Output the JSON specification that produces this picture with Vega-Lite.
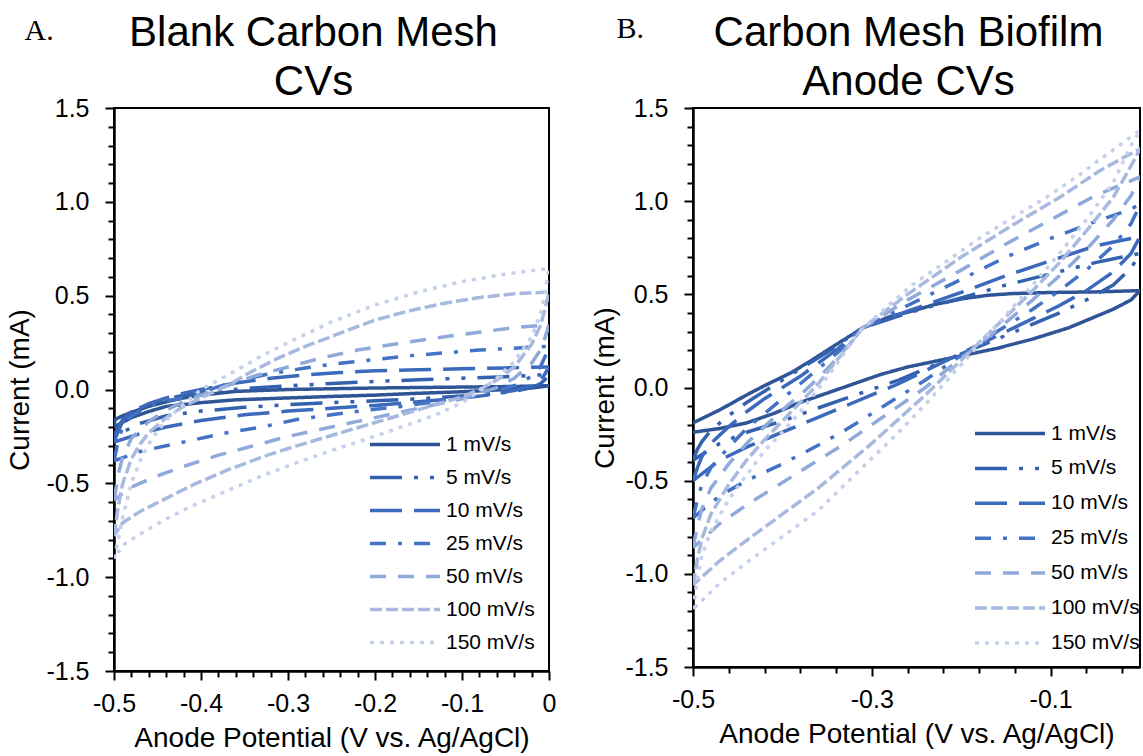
{
 "$schema": "https://vega.github.io/schema/vega-lite/v6.json",
 "background": "white",
 "padding": {"left": 5, "top": 11, "right": 0, "bottom": 0},
 "spacing": 33,
 "resolve": {"scale": {"color": "independent", "strokeDash": "independent"}, "legend": {"color": "independent", "strokeDash": "independent"}},
 "config": {
  "font": "Liberation Sans",
  "view": {"stroke": "black", "strokeWidth": 2},
  "axis": {"domainColor": "black", "domainWidth": 2.5, "tickColor": "black", "tickWidth": 2, "grid": false, "labelColor": "black", "labelFontSize": 25, "labelFont": "Liberation Sans", "titleFont": "Liberation Sans", "titleFontSize": 28, "titleFontWeight": "normal", "titleColor": "black", "labelFlush": false, "labelOverlap": false, "labelBound": false},
  "legend": {"orient": "none", "title": null, "symbolType": "stroke", "symbolSize": 4900, "symbolStrokeWidth": 3.5, "labelFontSize": 21, "labelFont": "Liberation Sans", "labelColor": "black", "labelOffset": 4, "padding": 0, "clipHeight": 21},
  "title": {"color": "black", "fontWeight": "normal"}
 },
 "datasets": {
  "A": [
   {"r":"1 mV/s","o":0,"v":-0.5,"i":-0.2},{"r":"1 mV/s","o":1,"v":-0.499,"i":-0.16},{"r":"1 mV/s","o":2,"v":-0.49,"i":-0.14},{"r":"1 mV/s","o":3,"v":-0.477,"i":-0.117},{"r":"1 mV/s","o":4,"v":-0.46,"i":-0.09},{"r":"1 mV/s","o":5,"v":-0.44,"i":-0.065},{"r":"1 mV/s","o":6,"v":-0.42,"i":-0.045},{"r":"1 mV/s","o":7,"v":-0.4,"i":-0.03},{"r":"1 mV/s","o":8,"v":-0.36,"i":-0.01},{"r":"1 mV/s","o":9,"v":-0.3,"i":0},{"r":"1 mV/s","o":10,"v":-0.2,"i":0.008},{"r":"1 mV/s","o":11,"v":-0.1,"i":0.013},{"r":"1 mV/s","o":12,"v":-0.04,"i":0.016},{"r":"1 mV/s","o":13,"v":0,"i":0.02},
   {"r":"1 mV/s","o":14,"v":-0.02,"i":0.008},{"r":"1 mV/s","o":15,"v":-0.05,"i":0},{"r":"1 mV/s","o":16,"v":-0.1,"i":-0.012},{"r":"1 mV/s","o":17,"v":-0.15,"i":-0.02},{"r":"1 mV/s","o":18,"v":-0.2,"i":-0.03},{"r":"1 mV/s","o":19,"v":-0.25,"i":-0.037},{"r":"1 mV/s","o":20,"v":-0.3,"i":-0.045},{"r":"1 mV/s","o":21,"v":-0.36,"i":-0.055},{"r":"1 mV/s","o":22,"v":-0.4,"i":-0.07},{"r":"1 mV/s","o":23,"v":-0.44,"i":-0.09},{"r":"1 mV/s","o":24,"v":-0.46,"i":-0.117},{"r":"1 mV/s","o":25,"v":-0.48,"i":-0.15},{"r":"1 mV/s","o":26,"v":-0.5,"i":-0.2},

   {"r":"5 mV/s","o":0,"v":-0.5,"i":-0.25},{"r":"5 mV/s","o":1,"v":-0.495,"i":-0.2},{"r":"5 mV/s","o":2,"v":-0.49,"i":-0.16},{"r":"5 mV/s","o":3,"v":-0.48,"i":-0.12},{"r":"5 mV/s","o":4,"v":-0.46,"i":-0.08},{"r":"5 mV/s","o":5,"v":-0.44,"i":-0.05},{"r":"5 mV/s","o":6,"v":-0.42,"i":-0.03},{"r":"5 mV/s","o":7,"v":-0.4,"i":-0.015},{"r":"5 mV/s","o":8,"v":-0.35,"i":0.005},{"r":"5 mV/s","o":9,"v":-0.3,"i":0.02},{"r":"5 mV/s","o":10,"v":-0.25,"i":0.032},{"r":"5 mV/s","o":11,"v":-0.2,"i":0.043},{"r":"5 mV/s","o":12,"v":-0.15,"i":0.052},{"r":"5 mV/s","o":13,"v":-0.1,"i":0.06},{"r":"5 mV/s","o":14,"v":-0.05,"i":0.068},{"r":"5 mV/s","o":15,"v":0,"i":0.08},
   {"r":"5 mV/s","o":16,"v":-0.005,"i":0.05},{"r":"5 mV/s","o":17,"v":-0.01,"i":0.03},{"r":"5 mV/s","o":18,"v":-0.02,"i":0.01},{"r":"5 mV/s","o":19,"v":-0.04,"i":-0.01},{"r":"5 mV/s","o":20,"v":-0.07,"i":-0.025},{"r":"5 mV/s","o":21,"v":-0.1,"i":-0.035},{"r":"5 mV/s","o":22,"v":-0.15,"i":-0.05},{"r":"5 mV/s","o":23,"v":-0.2,"i":-0.06},{"r":"5 mV/s","o":24,"v":-0.25,"i":-0.07},{"r":"5 mV/s","o":25,"v":-0.3,"i":-0.08},{"r":"5 mV/s","o":26,"v":-0.35,"i":-0.095},{"r":"5 mV/s","o":27,"v":-0.4,"i":-0.115},{"r":"5 mV/s","o":28,"v":-0.44,"i":-0.14},{"r":"5 mV/s","o":29,"v":-0.47,"i":-0.18},{"r":"5 mV/s","o":30,"v":-0.5,"i":-0.25},

   {"r":"10 mV/s","o":0,"v":-0.5,"i":-0.28},{"r":"10 mV/s","o":1,"v":-0.495,"i":-0.22},{"r":"10 mV/s","o":2,"v":-0.49,"i":-0.17},{"r":"10 mV/s","o":3,"v":-0.48,"i":-0.12},{"r":"10 mV/s","o":4,"v":-0.46,"i":-0.075},{"r":"10 mV/s","o":5,"v":-0.44,"i":-0.045},{"r":"10 mV/s","o":6,"v":-0.42,"i":-0.02},{"r":"10 mV/s","o":7,"v":-0.4,"i":0},{"r":"10 mV/s","o":8,"v":-0.36,"i":0.035},{"r":"10 mV/s","o":9,"v":-0.32,"i":0.06},{"r":"10 mV/s","o":10,"v":-0.28,"i":0.078},{"r":"10 mV/s","o":11,"v":-0.24,"i":0.09},{"r":"10 mV/s","o":12,"v":-0.2,"i":0.1},{"r":"10 mV/s","o":13,"v":-0.15,"i":0.105},{"r":"10 mV/s","o":14,"v":-0.1,"i":0.11},{"r":"10 mV/s","o":15,"v":-0.05,"i":0.115},{"r":"10 mV/s","o":16,"v":0,"i":0.12},
   {"r":"10 mV/s","o":17,"v":-0.005,"i":0.08},{"r":"10 mV/s","o":18,"v":-0.01,"i":0.05},{"r":"10 mV/s","o":19,"v":-0.02,"i":0.02},{"r":"10 mV/s","o":20,"v":-0.04,"i":-0.005},{"r":"10 mV/s","o":21,"v":-0.07,"i":-0.03},{"r":"10 mV/s","o":22,"v":-0.1,"i":-0.045},{"r":"10 mV/s","o":23,"v":-0.15,"i":-0.065},{"r":"10 mV/s","o":24,"v":-0.2,"i":-0.085},{"r":"10 mV/s","o":25,"v":-0.25,"i":-0.1},{"r":"10 mV/s","o":26,"v":-0.3,"i":-0.115},{"r":"10 mV/s","o":27,"v":-0.35,"i":-0.135},{"r":"10 mV/s","o":28,"v":-0.4,"i":-0.165},{"r":"10 mV/s","o":29,"v":-0.44,"i":-0.2},{"r":"10 mV/s","o":30,"v":-0.47,"i":-0.235},{"r":"10 mV/s","o":31,"v":-0.5,"i":-0.28},

   {"r":"25 mV/s","o":0,"v":-0.5,"i":-0.38},{"r":"25 mV/s","o":1,"v":-0.495,"i":-0.27},{"r":"25 mV/s","o":2,"v":-0.49,"i":-0.2},{"r":"25 mV/s","o":3,"v":-0.48,"i":-0.14},{"r":"25 mV/s","o":4,"v":-0.46,"i":-0.09},{"r":"25 mV/s","o":5,"v":-0.44,"i":-0.06},{"r":"25 mV/s","o":6,"v":-0.42,"i":-0.045},{"r":"25 mV/s","o":7,"v":-0.4,"i":-0.015},{"r":"25 mV/s","o":8,"v":-0.36,"i":0.045},{"r":"25 mV/s","o":9,"v":-0.32,"i":0.085},{"r":"25 mV/s","o":10,"v":-0.28,"i":0.115},{"r":"25 mV/s","o":11,"v":-0.24,"i":0.14},{"r":"25 mV/s","o":12,"v":-0.2,"i":0.16},{"r":"25 mV/s","o":13,"v":-0.16,"i":0.18},{"r":"25 mV/s","o":14,"v":-0.12,"i":0.195},{"r":"25 mV/s","o":15,"v":-0.08,"i":0.21},{"r":"25 mV/s","o":16,"v":-0.04,"i":0.22},{"r":"25 mV/s","o":17,"v":0,"i":0.23},
   {"r":"25 mV/s","o":18,"v":-0.005,"i":0.17},{"r":"25 mV/s","o":19,"v":-0.01,"i":0.12},{"r":"25 mV/s","o":20,"v":-0.02,"i":0.07},{"r":"25 mV/s","o":21,"v":-0.04,"i":0.02},{"r":"25 mV/s","o":22,"v":-0.06,"i":-0.005},{"r":"25 mV/s","o":23,"v":-0.09,"i":-0.035},{"r":"25 mV/s","o":24,"v":-0.13,"i":-0.065},{"r":"25 mV/s","o":25,"v":-0.17,"i":-0.09},{"r":"25 mV/s","o":26,"v":-0.21,"i":-0.11},{"r":"25 mV/s","o":27,"v":-0.25,"i":-0.135},{"r":"25 mV/s","o":28,"v":-0.29,"i":-0.16},{"r":"25 mV/s","o":29,"v":-0.33,"i":-0.2},{"r":"25 mV/s","o":30,"v":-0.37,"i":-0.23},{"r":"25 mV/s","o":31,"v":-0.41,"i":-0.27},{"r":"25 mV/s","o":32,"v":-0.44,"i":-0.3},{"r":"25 mV/s","o":33,"v":-0.47,"i":-0.33},{"r":"25 mV/s","o":34,"v":-0.5,"i":-0.38},

   {"r":"50 mV/s","o":0,"v":-0.5,"i":-0.59},{"r":"50 mV/s","o":1,"v":-0.495,"i":-0.45},{"r":"50 mV/s","o":2,"v":-0.49,"i":-0.36},{"r":"50 mV/s","o":3,"v":-0.48,"i":-0.26},{"r":"50 mV/s","o":4,"v":-0.46,"i":-0.17},{"r":"50 mV/s","o":5,"v":-0.44,"i":-0.11},{"r":"50 mV/s","o":6,"v":-0.42,"i":-0.065},{"r":"50 mV/s","o":7,"v":-0.4,"i":-0.03},{"r":"50 mV/s","o":8,"v":-0.37,"i":0.02},{"r":"50 mV/s","o":9,"v":-0.34,"i":0.07},{"r":"50 mV/s","o":10,"v":-0.3,"i":0.12},{"r":"50 mV/s","o":11,"v":-0.26,"i":0.17},{"r":"50 mV/s","o":12,"v":-0.22,"i":0.21},{"r":"50 mV/s","o":13,"v":-0.18,"i":0.24},{"r":"50 mV/s","o":14,"v":-0.13,"i":0.275},{"r":"50 mV/s","o":15,"v":-0.08,"i":0.305},{"r":"50 mV/s","o":16,"v":-0.04,"i":0.33},{"r":"50 mV/s","o":17,"v":0,"i":0.345},
   {"r":"50 mV/s","o":18,"v":-0.005,"i":0.27},{"r":"50 mV/s","o":19,"v":-0.01,"i":0.21},{"r":"50 mV/s","o":20,"v":-0.02,"i":0.14},{"r":"50 mV/s","o":21,"v":-0.04,"i":0.06},{"r":"50 mV/s","o":22,"v":-0.06,"i":0.01},{"r":"50 mV/s","o":23,"v":-0.08,"i":-0.02},{"r":"50 mV/s","o":24,"v":-0.1,"i":-0.05},{"r":"50 mV/s","o":25,"v":-0.14,"i":-0.09},{"r":"50 mV/s","o":26,"v":-0.18,"i":-0.13},{"r":"50 mV/s","o":27,"v":-0.22,"i":-0.17},{"r":"50 mV/s","o":28,"v":-0.26,"i":-0.21},{"r":"50 mV/s","o":29,"v":-0.3,"i":-0.25},{"r":"50 mV/s","o":30,"v":-0.34,"i":-0.3},{"r":"50 mV/s","o":31,"v":-0.38,"i":-0.35},{"r":"50 mV/s","o":32,"v":-0.42,"i":-0.41},{"r":"50 mV/s","o":33,"v":-0.45,"i":-0.46},{"r":"50 mV/s","o":34,"v":-0.48,"i":-0.52},{"r":"50 mV/s","o":35,"v":-0.5,"i":-0.59},

   {"r":"100 mV/s","o":0,"v":-0.5,"i":-0.78},{"r":"100 mV/s","o":1,"v":-0.495,"i":-0.62},{"r":"100 mV/s","o":2,"v":-0.49,"i":-0.5},{"r":"100 mV/s","o":3,"v":-0.48,"i":-0.37},{"r":"100 mV/s","o":4,"v":-0.47,"i":-0.29},{"r":"100 mV/s","o":5,"v":-0.46,"i":-0.23},{"r":"100 mV/s","o":6,"v":-0.44,"i":-0.15},{"r":"100 mV/s","o":7,"v":-0.42,"i":-0.09},{"r":"100 mV/s","o":8,"v":-0.4,"i":-0.045},{"r":"100 mV/s","o":9,"v":-0.37,"i":0.02},{"r":"100 mV/s","o":10,"v":-0.34,"i":0.1},{"r":"100 mV/s","o":11,"v":-0.31,"i":0.17},{"r":"100 mV/s","o":12,"v":-0.28,"i":0.23},{"r":"100 mV/s","o":13,"v":-0.24,"i":0.3},{"r":"100 mV/s","o":14,"v":-0.2,"i":0.37},{"r":"100 mV/s","o":15,"v":-0.16,"i":0.42},{"r":"100 mV/s","o":16,"v":-0.12,"i":0.46},{"r":"100 mV/s","o":17,"v":-0.08,"i":0.49},{"r":"100 mV/s","o":18,"v":-0.04,"i":0.51},{"r":"100 mV/s","o":19,"v":0,"i":0.52},
   {"r":"100 mV/s","o":20,"v":-0.005,"i":0.42},{"r":"100 mV/s","o":21,"v":-0.01,"i":0.34},{"r":"100 mV/s","o":22,"v":-0.02,"i":0.24},{"r":"100 mV/s","o":23,"v":-0.04,"i":0.12},{"r":"100 mV/s","o":24,"v":-0.06,"i":0.05},{"r":"100 mV/s","o":25,"v":-0.08,"i":0},{"r":"100 mV/s","o":26,"v":-0.1,"i":-0.04},{"r":"100 mV/s","o":27,"v":-0.13,"i":-0.08},{"r":"100 mV/s","o":28,"v":-0.17,"i":-0.135},{"r":"100 mV/s","o":29,"v":-0.21,"i":-0.19},{"r":"100 mV/s","o":30,"v":-0.25,"i":-0.245},{"r":"100 mV/s","o":31,"v":-0.29,"i":-0.3},{"r":"100 mV/s","o":32,"v":-0.33,"i":-0.36},{"r":"100 mV/s","o":33,"v":-0.37,"i":-0.43},{"r":"100 mV/s","o":34,"v":-0.41,"i":-0.51},{"r":"100 mV/s","o":35,"v":-0.44,"i":-0.58},{"r":"100 mV/s","o":36,"v":-0.47,"i":-0.65},{"r":"100 mV/s","o":37,"v":-0.49,"i":-0.71},{"r":"100 mV/s","o":38,"v":-0.5,"i":-0.78},

   {"r":"150 mV/s","o":0,"v":-0.5,"i":-0.9},{"r":"150 mV/s","o":1,"v":-0.495,"i":-0.8},{"r":"150 mV/s","o":2,"v":-0.49,"i":-0.68},{"r":"150 mV/s","o":3,"v":-0.48,"i":-0.5},{"r":"150 mV/s","o":4,"v":-0.47,"i":-0.38},{"r":"150 mV/s","o":5,"v":-0.46,"i":-0.29},{"r":"150 mV/s","o":6,"v":-0.45,"i":-0.22},{"r":"150 mV/s","o":7,"v":-0.435,"i":-0.14},{"r":"150 mV/s","o":8,"v":-0.42,"i":-0.08},{"r":"150 mV/s","o":9,"v":-0.4,"i":0},{"r":"150 mV/s","o":10,"v":-0.36,"i":0.1},{"r":"150 mV/s","o":11,"v":-0.33,"i":0.18},{"r":"150 mV/s","o":12,"v":-0.3,"i":0.25},{"r":"150 mV/s","o":13,"v":-0.25,"i":0.36},{"r":"150 mV/s","o":14,"v":-0.2,"i":0.45},{"r":"150 mV/s","o":15,"v":-0.15,"i":0.52},{"r":"150 mV/s","o":16,"v":-0.1,"i":0.575},{"r":"150 mV/s","o":17,"v":-0.05,"i":0.615},{"r":"150 mV/s","o":18,"v":0,"i":0.645},
   {"r":"150 mV/s","o":19,"v":-0.005,"i":0.5},{"r":"150 mV/s","o":20,"v":-0.01,"i":0.4},{"r":"150 mV/s","o":21,"v":-0.02,"i":0.28},{"r":"150 mV/s","o":22,"v":-0.04,"i":0.15},{"r":"150 mV/s","o":23,"v":-0.06,"i":0.06},{"r":"150 mV/s","o":24,"v":-0.08,"i":-0.01},{"r":"150 mV/s","o":25,"v":-0.1,"i":-0.07},{"r":"150 mV/s","o":26,"v":-0.13,"i":-0.135},{"r":"150 mV/s","o":27,"v":-0.17,"i":-0.2},{"r":"150 mV/s","o":28,"v":-0.21,"i":-0.265},{"r":"150 mV/s","o":29,"v":-0.25,"i":-0.325},{"r":"150 mV/s","o":30,"v":-0.29,"i":-0.39},{"r":"150 mV/s","o":31,"v":-0.33,"i":-0.46},{"r":"150 mV/s","o":32,"v":-0.37,"i":-0.54},{"r":"150 mV/s","o":33,"v":-0.41,"i":-0.62},{"r":"150 mV/s","o":34,"v":-0.44,"i":-0.69},{"r":"150 mV/s","o":35,"v":-0.47,"i":-0.77},{"r":"150 mV/s","o":36,"v":-0.49,"i":-0.83},{"r":"150 mV/s","o":37,"v":-0.5,"i":-0.9}
  ],
  "B": [
   {"r":"1 mV/s","o":0,"v":-0.5,"i":-0.19},{"r":"1 mV/s","o":1,"v":-0.47,"i":-0.12},{"r":"1 mV/s","o":2,"v":-0.44,"i":-0.04},{"r":"1 mV/s","o":3,"v":-0.42,"i":0.01},{"r":"1 mV/s","o":4,"v":-0.39,"i":0.08},{"r":"1 mV/s","o":5,"v":-0.366,"i":0.15},{"r":"1 mV/s","o":6,"v":-0.34,"i":0.23},{"r":"1 mV/s","o":7,"v":-0.31,"i":0.32},{"r":"1 mV/s","o":8,"v":-0.28,"i":0.38},{"r":"1 mV/s","o":9,"v":-0.255,"i":0.41},{"r":"1 mV/s","o":10,"v":-0.23,"i":0.445},{"r":"1 mV/s","o":11,"v":-0.198,"i":0.477},{"r":"1 mV/s","o":12,"v":-0.17,"i":0.495},{"r":"1 mV/s","o":13,"v":-0.143,"i":0.504},{"r":"1 mV/s","o":14,"v":-0.1,"i":0.51},{"r":"1 mV/s","o":15,"v":-0.05,"i":0.513},{"r":"1 mV/s","o":16,"v":0,"i":0.52},
   {"r":"1 mV/s","o":17,"v":-0.01,"i":0.47},{"r":"1 mV/s","o":18,"v":-0.03,"i":0.42},{"r":"1 mV/s","o":19,"v":-0.05,"i":0.38},{"r":"1 mV/s","o":20,"v":-0.08,"i":0.32},{"r":"1 mV/s","o":21,"v":-0.12,"i":0.26},{"r":"1 mV/s","o":22,"v":-0.16,"i":0.21},{"r":"1 mV/s","o":23,"v":-0.2,"i":0.17},{"r":"1 mV/s","o":24,"v":-0.23,"i":0.14},{"r":"1 mV/s","o":25,"v":-0.26,"i":0.11},{"r":"1 mV/s","o":26,"v":-0.29,"i":0.07},{"r":"1 mV/s","o":27,"v":-0.32,"i":0.02},{"r":"1 mV/s","o":28,"v":-0.35,"i":-0.03},{"r":"1 mV/s","o":29,"v":-0.38,"i":-0.08},{"r":"1 mV/s","o":30,"v":-0.41,"i":-0.14},{"r":"1 mV/s","o":31,"v":-0.44,"i":-0.19},{"r":"1 mV/s","o":32,"v":-0.47,"i":-0.22},{"r":"1 mV/s","o":33,"v":-0.5,"i":-0.24},

   {"r":"5 mV/s","o":0,"v":-0.5,"i":-0.39},{"r":"5 mV/s","o":1,"v":-0.495,"i":-0.33},{"r":"5 mV/s","o":2,"v":-0.49,"i":-0.29},{"r":"5 mV/s","o":3,"v":-0.48,"i":-0.23},{"r":"5 mV/s","o":4,"v":-0.46,"i":-0.15},{"r":"5 mV/s","o":5,"v":-0.44,"i":-0.08},{"r":"5 mV/s","o":6,"v":-0.42,"i":-0.02},{"r":"5 mV/s","o":7,"v":-0.4,"i":0.04},{"r":"5 mV/s","o":8,"v":-0.38,"i":0.1},{"r":"5 mV/s","o":9,"v":-0.36,"i":0.16},{"r":"5 mV/s","o":10,"v":-0.34,"i":0.22},{"r":"5 mV/s","o":11,"v":-0.32,"i":0.29},{"r":"5 mV/s","o":12,"v":-0.31,"i":0.32},{"r":"5 mV/s","o":13,"v":-0.26,"i":0.4},{"r":"5 mV/s","o":14,"v":-0.2,"i":0.48},{"r":"5 mV/s","o":15,"v":-0.15,"i":0.55},{"r":"5 mV/s","o":16,"v":-0.1,"i":0.61},{"r":"5 mV/s","o":17,"v":-0.05,"i":0.67},{"r":"5 mV/s","o":18,"v":-0.02,"i":0.7},{"r":"5 mV/s","o":19,"v":0,"i":0.72},
   {"r":"5 mV/s","o":20,"v":-0.01,"i":0.64},{"r":"5 mV/s","o":21,"v":-0.03,"i":0.55},{"r":"5 mV/s","o":22,"v":-0.06,"i":0.47},{"r":"5 mV/s","o":23,"v":-0.09,"i":0.4},{"r":"5 mV/s","o":24,"v":-0.12,"i":0.34},{"r":"5 mV/s","o":25,"v":-0.15,"i":0.28},{"r":"5 mV/s","o":26,"v":-0.18,"i":0.22},{"r":"5 mV/s","o":27,"v":-0.21,"i":0.16},{"r":"5 mV/s","o":28,"v":-0.24,"i":0.1},{"r":"5 mV/s","o":29,"v":-0.27,"i":0.04},{"r":"5 mV/s","o":30,"v":-0.3,"i":-0.01},{"r":"5 mV/s","o":31,"v":-0.33,"i":-0.06},{"r":"5 mV/s","o":32,"v":-0.36,"i":-0.11},{"r":"5 mV/s","o":33,"v":-0.4,"i":-0.18},{"r":"5 mV/s","o":34,"v":-0.44,"i":-0.24},{"r":"5 mV/s","o":35,"v":-0.47,"i":-0.3},{"r":"5 mV/s","o":36,"v":-0.5,"i":-0.39},

   {"r":"10 mV/s","o":0,"v":-0.5,"i":-0.5},{"r":"10 mV/s","o":1,"v":-0.495,"i":-0.43},{"r":"10 mV/s","o":2,"v":-0.49,"i":-0.37},{"r":"10 mV/s","o":3,"v":-0.48,"i":-0.3},{"r":"10 mV/s","o":4,"v":-0.46,"i":-0.21},{"r":"10 mV/s","o":5,"v":-0.44,"i":-0.13},{"r":"10 mV/s","o":6,"v":-0.42,"i":-0.06},{"r":"10 mV/s","o":7,"v":-0.4,"i":0},{"r":"10 mV/s","o":8,"v":-0.38,"i":0.06},{"r":"10 mV/s","o":9,"v":-0.36,"i":0.13},{"r":"10 mV/s","o":10,"v":-0.34,"i":0.2},{"r":"10 mV/s","o":11,"v":-0.32,"i":0.28},{"r":"10 mV/s","o":12,"v":-0.31,"i":0.32},{"r":"10 mV/s","o":13,"v":-0.26,"i":0.41},{"r":"10 mV/s","o":14,"v":-0.2,"i":0.51},{"r":"10 mV/s","o":15,"v":-0.15,"i":0.6},{"r":"10 mV/s","o":16,"v":-0.1,"i":0.68},{"r":"10 mV/s","o":17,"v":-0.05,"i":0.76},{"r":"10 mV/s","o":18,"v":-0.02,"i":0.79},{"r":"10 mV/s","o":19,"v":0,"i":0.81},
   {"r":"10 mV/s","o":20,"v":-0.01,"i":0.72},{"r":"10 mV/s","o":21,"v":-0.03,"i":0.62},{"r":"10 mV/s","o":22,"v":-0.06,"i":0.52},{"r":"10 mV/s","o":23,"v":-0.09,"i":0.44},{"r":"10 mV/s","o":24,"v":-0.12,"i":0.37},{"r":"10 mV/s","o":25,"v":-0.15,"i":0.3},{"r":"10 mV/s","o":26,"v":-0.18,"i":0.23},{"r":"10 mV/s","o":27,"v":-0.21,"i":0.16},{"r":"10 mV/s","o":28,"v":-0.24,"i":0.09},{"r":"10 mV/s","o":29,"v":-0.27,"i":0.02},{"r":"10 mV/s","o":30,"v":-0.3,"i":-0.04},{"r":"10 mV/s","o":31,"v":-0.33,"i":-0.1},{"r":"10 mV/s","o":32,"v":-0.36,"i":-0.16},{"r":"10 mV/s","o":33,"v":-0.4,"i":-0.24},{"r":"10 mV/s","o":34,"v":-0.44,"i":-0.32},{"r":"10 mV/s","o":35,"v":-0.47,"i":-0.39},{"r":"10 mV/s","o":36,"v":-0.5,"i":-0.5},

   {"r":"25 mV/s","o":0,"v":-0.5,"i":-0.7},{"r":"25 mV/s","o":1,"v":-0.495,"i":-0.6},{"r":"25 mV/s","o":2,"v":-0.49,"i":-0.52},{"r":"25 mV/s","o":3,"v":-0.48,"i":-0.43},{"r":"25 mV/s","o":4,"v":-0.46,"i":-0.32},{"r":"25 mV/s","o":5,"v":-0.44,"i":-0.22},{"r":"25 mV/s","o":6,"v":-0.42,"i":-0.14},{"r":"25 mV/s","o":7,"v":-0.4,"i":-0.06},{"r":"25 mV/s","o":8,"v":-0.38,"i":0.02},{"r":"25 mV/s","o":9,"v":-0.36,"i":0.1},{"r":"25 mV/s","o":10,"v":-0.34,"i":0.18},{"r":"25 mV/s","o":11,"v":-0.32,"i":0.27},{"r":"25 mV/s","o":12,"v":-0.31,"i":0.32},{"r":"25 mV/s","o":13,"v":-0.26,"i":0.44},{"r":"25 mV/s","o":14,"v":-0.2,"i":0.58},{"r":"25 mV/s","o":15,"v":-0.15,"i":0.7},{"r":"25 mV/s","o":16,"v":-0.1,"i":0.8},{"r":"25 mV/s","o":17,"v":-0.05,"i":0.89},{"r":"25 mV/s","o":18,"v":-0.02,"i":0.94},{"r":"25 mV/s","o":19,"v":0,"i":0.98},
   {"r":"25 mV/s","o":20,"v":-0.01,"i":0.88},{"r":"25 mV/s","o":21,"v":-0.03,"i":0.76},{"r":"25 mV/s","o":22,"v":-0.06,"i":0.63},{"r":"25 mV/s","o":23,"v":-0.09,"i":0.52},{"r":"25 mV/s","o":24,"v":-0.12,"i":0.42},{"r":"25 mV/s","o":25,"v":-0.15,"i":0.33},{"r":"25 mV/s","o":26,"v":-0.18,"i":0.24},{"r":"25 mV/s","o":27,"v":-0.21,"i":0.14},{"r":"25 mV/s","o":28,"v":-0.24,"i":0.04},{"r":"25 mV/s","o":29,"v":-0.27,"i":-0.05},{"r":"25 mV/s","o":30,"v":-0.3,"i":-0.14},{"r":"25 mV/s","o":31,"v":-0.33,"i":-0.23},{"r":"25 mV/s","o":32,"v":-0.36,"i":-0.31},{"r":"25 mV/s","o":33,"v":-0.4,"i":-0.41},{"r":"25 mV/s","o":34,"v":-0.44,"i":-0.5},{"r":"25 mV/s","o":35,"v":-0.47,"i":-0.58},{"r":"25 mV/s","o":36,"v":-0.5,"i":-0.7},

   {"r":"50 mV/s","o":0,"v":-0.5,"i":-0.86},{"r":"50 mV/s","o":1,"v":-0.495,"i":-0.74},{"r":"50 mV/s","o":2,"v":-0.49,"i":-0.65},{"r":"50 mV/s","o":3,"v":-0.48,"i":-0.54},{"r":"50 mV/s","o":4,"v":-0.46,"i":-0.41},{"r":"50 mV/s","o":5,"v":-0.44,"i":-0.3},{"r":"50 mV/s","o":6,"v":-0.42,"i":-0.21},{"r":"50 mV/s","o":7,"v":-0.4,"i":-0.12},{"r":"50 mV/s","o":8,"v":-0.38,"i":-0.04},{"r":"50 mV/s","o":9,"v":-0.36,"i":0.05},{"r":"50 mV/s","o":10,"v":-0.34,"i":0.15},{"r":"50 mV/s","o":11,"v":-0.32,"i":0.26},{"r":"50 mV/s","o":12,"v":-0.31,"i":0.32},{"r":"50 mV/s","o":13,"v":-0.26,"i":0.47},{"r":"50 mV/s","o":14,"v":-0.2,"i":0.63},{"r":"50 mV/s","o":15,"v":-0.15,"i":0.77},{"r":"50 mV/s","o":16,"v":-0.1,"i":0.9},{"r":"50 mV/s","o":17,"v":-0.05,"i":1.03},{"r":"50 mV/s","o":18,"v":-0.02,"i":1.09},{"r":"50 mV/s","o":19,"v":0,"i":1.13},
   {"r":"50 mV/s","o":20,"v":-0.01,"i":1.03},{"r":"50 mV/s","o":21,"v":-0.03,"i":0.9},{"r":"50 mV/s","o":22,"v":-0.06,"i":0.74},{"r":"50 mV/s","o":23,"v":-0.09,"i":0.6},{"r":"50 mV/s","o":24,"v":-0.12,"i":0.47},{"r":"50 mV/s","o":25,"v":-0.15,"i":0.35},{"r":"50 mV/s","o":26,"v":-0.18,"i":0.23},{"r":"50 mV/s","o":27,"v":-0.21,"i":0.12},{"r":"50 mV/s","o":28,"v":-0.24,"i":0},{"r":"50 mV/s","o":29,"v":-0.27,"i":-0.1},{"r":"50 mV/s","o":30,"v":-0.3,"i":-0.2},{"r":"50 mV/s","o":31,"v":-0.33,"i":-0.3},{"r":"50 mV/s","o":32,"v":-0.36,"i":-0.39},{"r":"50 mV/s","o":33,"v":-0.4,"i":-0.51},{"r":"50 mV/s","o":34,"v":-0.44,"i":-0.63},{"r":"50 mV/s","o":35,"v":-0.47,"i":-0.73},{"r":"50 mV/s","o":36,"v":-0.5,"i":-0.86},

   {"r":"100 mV/s","o":0,"v":-0.5,"i":-1.06},{"r":"100 mV/s","o":1,"v":-0.495,"i":-0.92},{"r":"100 mV/s","o":2,"v":-0.49,"i":-0.81},{"r":"100 mV/s","o":3,"v":-0.48,"i":-0.68},{"r":"100 mV/s","o":4,"v":-0.46,"i":-0.52},{"r":"100 mV/s","o":5,"v":-0.44,"i":-0.39},{"r":"100 mV/s","o":6,"v":-0.42,"i":-0.28},{"r":"100 mV/s","o":7,"v":-0.4,"i":-0.18},{"r":"100 mV/s","o":8,"v":-0.38,"i":-0.08},{"r":"100 mV/s","o":9,"v":-0.36,"i":0.02},{"r":"100 mV/s","o":10,"v":-0.34,"i":0.14},{"r":"100 mV/s","o":11,"v":-0.32,"i":0.26},{"r":"100 mV/s","o":12,"v":-0.31,"i":0.32},{"r":"100 mV/s","o":13,"v":-0.26,"i":0.5},{"r":"100 mV/s","o":14,"v":-0.2,"i":0.7},{"r":"100 mV/s","o":15,"v":-0.143,"i":0.87},{"r":"100 mV/s","o":16,"v":-0.09,"i":1.02},{"r":"100 mV/s","o":17,"v":-0.046,"i":1.16},{"r":"100 mV/s","o":18,"v":-0.02,"i":1.23},{"r":"100 mV/s","o":19,"v":0,"i":1.28},
   {"r":"100 mV/s","o":20,"v":-0.01,"i":1.19},{"r":"100 mV/s","o":21,"v":-0.03,"i":1.02},{"r":"100 mV/s","o":22,"v":-0.06,"i":0.84},{"r":"100 mV/s","o":23,"v":-0.09,"i":0.67},{"r":"100 mV/s","o":24,"v":-0.12,"i":0.52},{"r":"100 mV/s","o":25,"v":-0.15,"i":0.38},{"r":"100 mV/s","o":26,"v":-0.18,"i":0.24},{"r":"100 mV/s","o":27,"v":-0.21,"i":0.1},{"r":"100 mV/s","o":28,"v":-0.24,"i":-0.04},{"r":"100 mV/s","o":29,"v":-0.27,"i":-0.17},{"r":"100 mV/s","o":30,"v":-0.3,"i":-0.3},{"r":"100 mV/s","o":31,"v":-0.33,"i":-0.42},{"r":"100 mV/s","o":32,"v":-0.36,"i":-0.54},{"r":"100 mV/s","o":33,"v":-0.4,"i":-0.68},{"r":"100 mV/s","o":34,"v":-0.44,"i":-0.82},{"r":"100 mV/s","o":35,"v":-0.47,"i":-0.93},{"r":"100 mV/s","o":36,"v":-0.5,"i":-1.06},

   {"r":"150 mV/s","o":0,"v":-0.5,"i":-1.19},{"r":"150 mV/s","o":1,"v":-0.495,"i":-1.02},{"r":"150 mV/s","o":2,"v":-0.49,"i":-0.9},{"r":"150 mV/s","o":3,"v":-0.48,"i":-0.77},{"r":"150 mV/s","o":4,"v":-0.46,"i":-0.6},{"r":"150 mV/s","o":5,"v":-0.44,"i":-0.47},{"r":"150 mV/s","o":6,"v":-0.42,"i":-0.34},{"r":"150 mV/s","o":7,"v":-0.4,"i":-0.24},{"r":"150 mV/s","o":8,"v":-0.38,"i":-0.13},{"r":"150 mV/s","o":9,"v":-0.36,"i":-0.01},{"r":"150 mV/s","o":10,"v":-0.34,"i":0.12},{"r":"150 mV/s","o":11,"v":-0.32,"i":0.26},{"r":"150 mV/s","o":12,"v":-0.31,"i":0.32},{"r":"150 mV/s","o":13,"v":-0.255,"i":0.55},{"r":"150 mV/s","o":14,"v":-0.217,"i":0.675},{"r":"150 mV/s","o":15,"v":-0.18,"i":0.8},{"r":"150 mV/s","o":16,"v":-0.143,"i":0.91},{"r":"150 mV/s","o":17,"v":-0.105,"i":1.02},{"r":"150 mV/s","o":18,"v":-0.068,"i":1.14},{"r":"150 mV/s","o":19,"v":-0.046,"i":1.22},{"r":"150 mV/s","o":20,"v":-0.02,"i":1.31},{"r":"150 mV/s","o":21,"v":0,"i":1.38},
   {"r":"150 mV/s","o":22,"v":-0.01,"i":1.3},{"r":"150 mV/s","o":23,"v":-0.03,"i":1.1},{"r":"150 mV/s","o":24,"v":-0.06,"i":0.9},{"r":"150 mV/s","o":25,"v":-0.09,"i":0.72},{"r":"150 mV/s","o":26,"v":-0.12,"i":0.55},{"r":"150 mV/s","o":27,"v":-0.15,"i":0.39},{"r":"150 mV/s","o":28,"v":-0.18,"i":0.23},{"r":"150 mV/s","o":29,"v":-0.21,"i":0.07},{"r":"150 mV/s","o":30,"v":-0.24,"i":-0.09},{"r":"150 mV/s","o":31,"v":-0.27,"i":-0.24},{"r":"150 mV/s","o":32,"v":-0.3,"i":-0.38},{"r":"150 mV/s","o":33,"v":-0.33,"i":-0.52},{"r":"150 mV/s","o":34,"v":-0.36,"i":-0.66},{"r":"150 mV/s","o":35,"v":-0.4,"i":-0.8},{"r":"150 mV/s","o":36,"v":-0.44,"i":-0.94},{"r":"150 mV/s","o":37,"v":-0.47,"i":-1.05},{"r":"150 mV/s","o":38,"v":-0.5,"i":-1.19}
  ]
 },
 "hconcat": [
  {
   "width": 435, "height": 563,
   "title": {"text": ["Blank Carbon Mesh", "CVs"], "fontSize": 42, "lineHeight": 49, "offset": -89, "dx": -18, "anchor": "middle", "frame": "group", "font": "Liberation Sans", "fontWeight": "normal", "color": "black"},
   "data": {"name": "A"},
   "layer": [
    {
     "mark": {"type": "line", "strokeWidth": 3.5, "interpolate": "linear", "clip": true},
     "encoding": {
      "x": {"field": "v", "type": "quantitative", "scale": {"domain": [-0.5, 0], "nice": false, "zero": false},
            "axis": {"orient": "bottom", "values": [-0.5, -0.4, -0.3, -0.2, -0.1, 0], "tickSize": 9, "labelPadding": 11, "title": "Anode Potential (V vs. Ag/AgCl)", "titlePadding": 8, "labelExpr": "replace(format(datum.value, '~g'), '−', '-')"}},
      "y": {"field": "i", "type": "quantitative", "scale": {"domain": [-1.5, 1.5], "nice": false, "zero": false},
            "axis": {"orient": "left", "values": [-1.5, -1, -0.5, 0, 0.5, 1, 1.5], "tickSize": 9, "labelPadding": 16, "title": "Current (mA)", "titlePadding": 11, "labelExpr": "replace(format(datum.value, '.1f'), '−', '-')"}},
      "color": {"field": "r", "type": "nominal",
                "scale": {"domain": ["1 mV/s", "5 mV/s", "10 mV/s", "25 mV/s", "50 mV/s", "100 mV/s", "150 mV/s"], "range": ["#2F5597", "#3361AE", "#3B69BC", "#4472C4", "#8FA9DA", "#A8B9DF", "#C5D0EA"]},
                "legend": {"legendX": 254, "legendY": 326, "rowPadding": 11}},
      "strokeDash": {"field": "r", "type": "nominal",
                "scale": {"domain": ["1 mV/s", "5 mV/s", "10 mV/s", "25 mV/s", "50 mV/s", "100 mV/s", "150 mV/s"], "range": [[1, 0], [32, 12, 4, 12, 4, 12], [32, 12], [16, 12, 4, 12], [16, 12], [12, 4], [4, 6]]},
                "legend": {"legendX": 254, "legendY": 326, "rowPadding": 11}},
      "order": {"field": "o", "type": "quantitative"}
     }
    },
    {
     "mark": {"type": "point", "opacity": 0},
     "encoding": {
      "x": {"field": "v", "type": "quantitative", "scale": {"domain": [-0.5, 0], "nice": false, "zero": false},
            "axis": {"orient": "bottom", "values": [-0.48, -0.46, -0.44, -0.42, -0.38, -0.36, -0.34, -0.32, -0.28, -0.26, -0.24, -0.22, -0.18, -0.16, -0.14, -0.12, -0.08, -0.06, -0.04, -0.02], "tickSize": 6, "labels": false, "domain": false, "title": null}},
      "y": {"field": "i", "type": "quantitative", "scale": {"domain": [-1.5, 1.5], "nice": false, "zero": false},
            "axis": {"orient": "left", "values": [-1.4, -1.3, -1.2, -1.1, -0.9, -0.8, -0.7, -0.6, -0.4, -0.3, -0.2, -0.1, 0.1, 0.2, 0.3, 0.4, 0.6, 0.7, 0.8, 0.9, 1.1, 1.2, 1.3, 1.4], "tickSize": 6, "labels": false, "domain": false,
                     "title": "A.", "titleX": -90, "titleY": -69, "titleAngle": 0, "titleAlign": "left", "titleBaseline": "alphabetic", "titleFont": "Liberation Serif", "titleFontSize": 30, "titleFontWeight": "normal", "titleColor": "black"}}
     }
    }
   ],
   "resolve": {"axis": {"x": "independent", "y": "independent"}}
  },
  {
   "width": 447, "height": 559,
   "title": {"text": ["Carbon Mesh Biofilm", "Anode CVs"], "fontSize": 42, "lineHeight": 49, "offset": -91, "dx": -8, "anchor": "middle", "frame": "group", "font": "Liberation Sans", "fontWeight": "normal", "color": "black"},
   "data": {"name": "B"},
   "layer": [
    {
     "mark": {"type": "line", "strokeWidth": 3.5, "interpolate": "linear", "clip": true},
     "encoding": {
      "x": {"field": "v", "type": "quantitative", "scale": {"domain": [-0.5, 0], "nice": false, "zero": false},
            "axis": {"orient": "bottom", "values": [-0.5, -0.3, -0.1], "tickSize": 9, "labelPadding": 11, "title": "Anode Potential (V vs. Ag/AgCl)", "titlePadding": 8, "labelExpr": "replace(format(datum.value, '~g'), '−', '-')"}},
      "y": {"field": "i", "type": "quantitative", "scale": {"domain": [-1.5, 1.5], "nice": false, "zero": false},
            "axis": {"orient": "left", "values": [-1.5, -1, -0.5, 0, 0.5, 1, 1.5], "tickSize": 9, "labelPadding": 16, "title": "Current (mA)", "titlePadding": 5, "labelExpr": "replace(format(datum.value, '.1f'), '−', '-')"}},
      "color": {"field": "r", "type": "nominal",
                "scale": {"domain": ["1 mV/s", "5 mV/s", "10 mV/s", "25 mV/s", "50 mV/s", "100 mV/s", "150 mV/s"], "range": ["#2F5597", "#3361AE", "#3B69BC", "#4472C4", "#8FA9DA", "#A8B9DF", "#C5D0EA"]},
                "legend": {"legendX": 280, "legendY": 315, "rowPadding": 12.9}},
      "strokeDash": {"field": "r", "type": "nominal",
                "scale": {"domain": ["1 mV/s", "5 mV/s", "10 mV/s", "25 mV/s", "50 mV/s", "100 mV/s", "150 mV/s"], "range": [[1, 0], [32, 12, 4, 12, 4, 12], [32, 12], [16, 12, 4, 12], [16, 12], [12, 4], [4, 6]]},
                "legend": {"legendX": 280, "legendY": 315, "rowPadding": 12.9}},
      "order": {"field": "o", "type": "quantitative"}
     }
    },
    {
     "mark": {"type": "point", "opacity": 0},
     "encoding": {
      "x": {"field": "v", "type": "quantitative", "scale": {"domain": [-0.5, 0], "nice": false, "zero": false},
            "axis": {"orient": "bottom", "values": [-0.46, -0.42, -0.38, -0.34, -0.26, -0.22, -0.18, -0.14, -0.06, -0.02], "tickSize": 6, "labels": false, "domain": false, "title": null}},
      "y": {"field": "i", "type": "quantitative", "scale": {"domain": [-1.5, 1.5], "nice": false, "zero": false},
            "axis": {"orient": "left", "values": [-1.4, -1.3, -1.2, -1.1, -0.9, -0.8, -0.7, -0.6, -0.4, -0.3, -0.2, -0.1, 0.1, 0.2, 0.3, 0.4, 0.6, 0.7, 0.8, 0.9, 1.1, 1.2, 1.3, 1.4], "tickSize": 6, "labels": false, "domain": false,
                     "title": "B.", "titleX": -77, "titleY": -71, "titleAngle": 0, "titleAlign": "left", "titleBaseline": "alphabetic", "titleFont": "Liberation Serif", "titleFontSize": 30, "titleFontWeight": "normal", "titleColor": "black"}}
     }
    }
   ],
   "resolve": {"axis": {"x": "independent", "y": "independent"}}
  }
 ]
}
